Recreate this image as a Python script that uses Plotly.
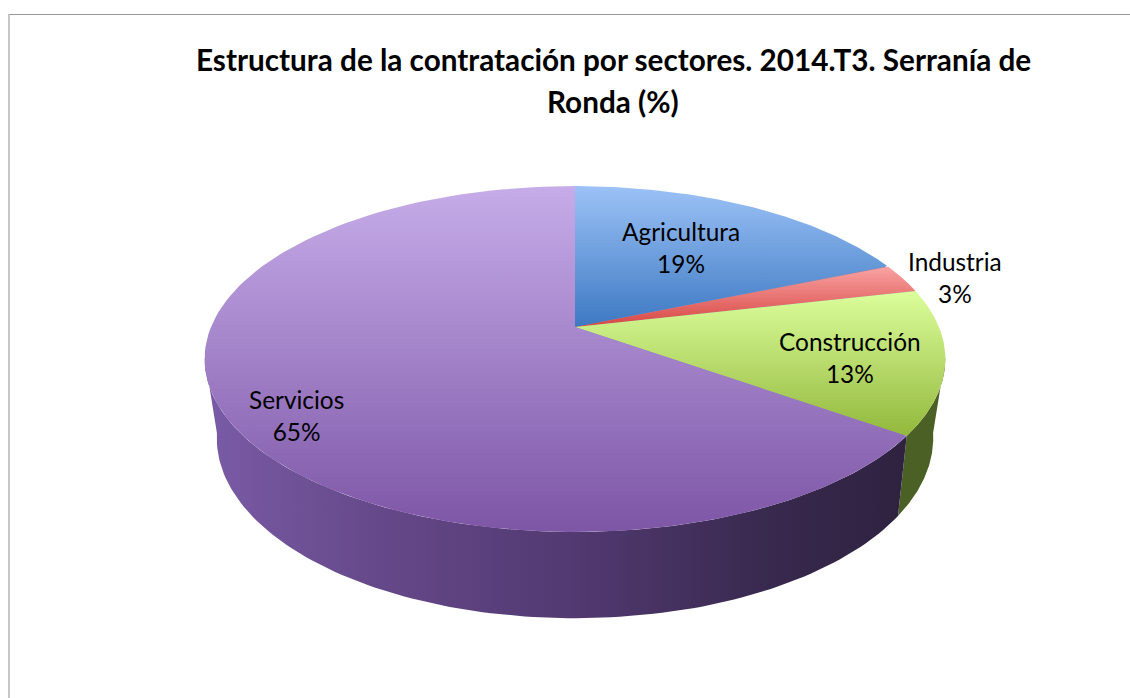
import numpy as np
import plotly.graph_objects as go

# ---- data ----
categories = ["Agricultura", "Industria", "Construcción", "Servicios"]
values = [18.6, 2.8, 13.49, 65.11]
title_lines = ["Estructura de la contratación por sectores. 2014.T3. Serranía de", "Ronda (%)"]

# [colour at the page-top of the slice, colour at its page-bottom]
top_colors = [["#9cc2f7", "#3d79c2"], ["#f9a3a2", "#d64643"], ["#dcfe9c", "#93b83c"], ["#c6ace9", "#7d56a6"]]
wall_colors = {
    "Construcción": [[0, "#4b6024"], [1, "#4b6024"]],
    "Servicios": [[0, "#7a5ba6"], [0.25, "#654889"], [0.55, "#50386f"], [0.8, "#38294e"], [1, "#2e2240"]],
}
label_pos = [(681, 247), (955, 277), (850, 357), (296, 415)]

# ---- projection of the tilted disc onto the page ----
CX = 575
TOP = dict(cy=327, A=364, B=167, k=0.185)
BOT = dict(cy=402, A=351, B=173, k=0.2)


def project(theta, p):
    u, v = np.sin(theta), np.cos(theta)
    d = 1 + p["k"] * v
    return CX + p["A"] * u / d, p["cy"] - p["B"] * v / d


def arc(a, b, p):
    return project(np.linspace(a, b, 120), p)


def poly(x, y, orient, scale, name):
    return go.Scatter(x=x, y=y, mode="lines", fill="toself", line=dict(width=0), name=name,
                      fillgradient=dict(type=orient, colorscale=scale), hoverinfo="skip", showlegend=False)


edges = 2 * np.pi * np.cumsum([0] + values) / sum(values)
fig = go.Figure()

# side walls (drawn first, the top surface covers their upper part)
SIL_R, SIL_L = np.radians(100), np.radians(260)
spans = {"Construcción": (SIL_R, edges[3]), "Servicios": (edges[3], SIL_L)}
for name, (a, b) in spans.items():
    tx, ty = arc(a, b, TOP)
    bx, by = arc(b, a, BOT)
    fig.add_trace(poly(np.r_[tx, bx], np.r_[ty, by], "horizontal", wall_colors[name], name + " lateral"))

# neutral base under the slices, so their shared edges show no white seam
bx, by = arc(0, 2 * np.pi, dict(TOP, A=TOP["A"] - 1.5, B=TOP["B"] - 1.5))
fig.add_trace(go.Scatter(x=bx, y=by, mode="lines", fill="toself", line=dict(width=0),
                         fillcolor="#8f8ab4", hoverinfo="skip", showlegend=False, name="base"))

# top surface
for i, name in enumerate(categories):
    ax, ay = arc(edges[i], edges[i + 1], TOP)
    x = np.r_[CX, ax, CX]
    y = np.r_[TOP["cy"], ay, TOP["cy"]]
    # the y axis runs downwards, so the gradient's 0 end is the page-top value of y reversed
    fig.add_trace(poly(x, y, "vertical", [[0, top_colors[i][1]], [1, top_colors[i][0]]], name))

annotations = []
for name, val, (lx, ly) in zip(categories, values, label_pos):
    annotations.append(dict(x=lx, y=ly, text=f"{name}<br>{round(val)}%", showarrow=False,
                            font=dict(family="Lato", size=24.4, color="#000000"), align="center"))
for line, ly in zip(title_lines, (59, 101)):
    annotations.append(dict(x=613, y=ly, text=f"<b>{line}</b>", showarrow=False,
                            font=dict(family="Lato", size=29.7, color="#000000")))

fig.update_layout(
    width=1130, height=698, margin=dict(l=0, r=0, t=0, b=0),
    paper_bgcolor="#ffffff", plot_bgcolor="#ffffff", showlegend=False,
    xaxis=dict(range=[0, 1130], visible=False, fixedrange=True),
    yaxis=dict(range=[698, 0], visible=False, fixedrange=True),
    annotations=annotations,
    shapes=[
        dict(type="line", x0=9, x1=1130, y0=14.5, y1=14.5, line=dict(color="#989898", width=1)),
        dict(type="line", x0=9, x1=9, y0=14, y1=698, line=dict(color="#b4b4b4", width=1.5)),
    ],
)
fig.write_html("out.html", config=dict(displayModeBar=False),
               post_script="document.body.style.margin='0';document.body.style.overflow='hidden';")
